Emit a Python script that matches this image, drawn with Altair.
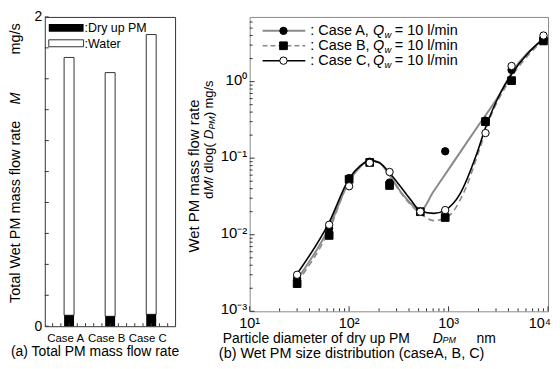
import altair as alt
import pandas as pd

FONT = "Liberation Sans"

# ---------------- data: panel (a) ----------------
cases = ["Case A", "Case B", "Case C"]
case_pos = [1, 2, 3]
dry_pm = [0.071, 0.064, 0.077]
total_wet = [1.738, 1.64, 1.886]

# ---------------- data: panel (b) ----------------
dpm = [30, 63, 100, 161, 255, 520, 925, 2350, 4300, 9000]
caseA_pts = [0.0027, 0.0121, 0.055, 0.090, 0.048, 0.020, 0.123, 0.31, 1.42, 3.55]
caseB_pts = [0.0023, 0.0098, 0.053, 0.088, 0.044, 0.020, 0.0168, 0.30, 1.03, 3.4]
caseC_pts = [0.0030, 0.0135, 0.043, 0.087, 0.066, 0.020, 0.021, 0.213, 1.6, 4.0]

curveA_x = [30, 63, 100, 130, 161, 200, 255, 327, 412, 520, 700, 1000, 2000, 3300, 4300, 9000]
curveA_y = [0.0026, 0.0125, 0.05, 0.078, 0.095, 0.088, 0.060, 0.037, 0.026, 0.0205, 0.0361, 0.0714, 0.269, 0.70, 1.3, 3.55]
curveB_x = [30, 63, 100, 130, 161, 200, 255, 327, 412, 520, 710, 960, 1400, 2070, 2600, 3850, 9000]
curveB_y = [0.0024, 0.0115, 0.05, 0.077, 0.092, 0.087, 0.060, 0.036, 0.025, 0.019, 0.0153, 0.0168, 0.034, 0.136, 0.33, 0.91, 3.5]
curveC_x = [30, 63, 100, 130, 161, 200, 255, 327, 412, 520, 710, 925, 1300, 1900, 2350, 3300, 4300, 9000]
curveC_y = [0.0031, 0.0145, 0.054, 0.08, 0.093, 0.088, 0.064, 0.043, 0.029, 0.0205, 0.019, 0.021, 0.034, 0.11, 0.25, 0.70, 1.25, 3.7]

legend_rows = ["Case A", "Case B", "Case C"]

# axis ticks / labels
left_yticks = [0.2 * i for i in range(11)]
left_xticks = [0.6 + 0.2 * i for i in range(15)]
x_major = [10, 100, 1000, 10000]
x_labels = ["10¹", "10²", "10³", "10⁴"]
x_minor = [m * d for d in [10, 100, 1000] for m in range(2, 10)]
y_major = [0.001, 0.01, 0.1, 1]
y_minor = [m * d for d in [0.001, 0.01, 0.1, 1] for m in range(2, 10) if m * d < 7.0]

W1, H1 = 131, 311
W2, H2 = 300, 296
GREY = "#8a8a8a"
NBSP = "\u00a0"


def txt(s, x, y, size=12, align="left", angle=0, style="normal", baseline="middle", color="black"):
    kw = dict(align=align, baseline=baseline, fontSize=size, font=FONT, color=color)
    if angle:
        kw["angle"] = angle
    if style != "normal":
        kw["fontStyle"] = style
    return alt.Chart(pd.DataFrame({"t": [s]})).mark_text(**kw).encode(
        text="t:N", x=alt.value(x), y=alt.value(y))


def anchor(x, y):
    # invisible rule fixing the layout extent
    return alt.Chart(pd.DataFrame({"a": [0]})).mark_rule(strokeOpacity=0).encode(
        x=alt.value(x), y=alt.value(y), y2=alt.value(0))


# ---------------- panel (a) ----------------
xs_a = alt.Scale(domain=[0.53, 3.46], nice=False, zero=False)
ys_a = alt.Scale(domain=[0, 2], nice=False)
x_axis_a = alt.Axis(values=case_pos, ticks=False, domain=False, grid=False, labelOverlap=False,
                    labelExpr="datum.value == 1 ? 'Case A' : datum.value == 2 ? 'Case B' : 'Case C'",
                    labelFontSize=11.5, labelPadding=6, labelFont=FONT, labelFlush=False,
                    labelColor="black", labelOffset=-4)
y_axis_a = alt.Axis(values=[0, 2], ticks=False, domain=False, grid=False, labelOverlap=False,
                    labelFontSize=14, labelPadding=3, labelFont=FONT, labelColor="black")
XA = alt.X("x:Q", scale=xs_a, title=None, axis=x_axis_a)
YA = alt.Y("y:Q", scale=ys_a, title=None, axis=y_axis_a)

df_water = pd.DataFrame({"x": case_pos, "y": dry_pm, "y2": total_wet})
df_dry = pd.DataFrame({"x": case_pos, "y": [0] * 3, "y2": dry_pm})

water = alt.Chart(df_water).mark_bar(size=10, fill="white", stroke="#333", strokeWidth=1).encode(
    x=XA, y=YA, y2="y2:Q")
dry = alt.Chart(df_dry).mark_bar(size=10, color="black").encode(x=XA, y=YA, y2="y2:Q")

yt_a = alt.Chart(pd.DataFrame({"y": left_yticks})).mark_rule(color="#333").encode(
    y=YA, x=alt.value(0), x2=alt.value(4))
xt_a = alt.Chart(pd.DataFrame({"x": left_xticks})).mark_rule(color="#333").encode(
    x=XA, y=alt.value(H1), y2=alt.value(H1 - 3))

leg_a = [
    alt.Chart(pd.DataFrame({"a": [0]})).mark_rect(color="black").encode(
        x=alt.value(4), x2=alt.value(39), y=alt.value(7), y2=alt.value(15)),
    alt.Chart(pd.DataFrame({"a": [0]})).mark_rect(fill="white", stroke="#333").encode(
        x=alt.value(4), x2=alt.value(39), y=alt.value(23), y2=alt.value(30)),
    txt(":Dry up PM", 40, 11, 12.5),
    txt(":Water", 40, 27, 12.5),
]
title_a = [
    txt("Total Wet PM mass flow rate", -28.5, 196, 14.5, align="center", angle=270),
    txt("M", -28.5, 82, 14.5, align="center", angle=270, style="italic"),
    txt("mg/s", -28.5, 22, 14.5, align="center", angle=270),
    txt("(a) Total PM mass flow rate", -34, 337, 14),
]

panel_a = alt.layer(water, dry, yt_a, xt_a, anchor(-35, -7), *leg_a, *title_a).properties(
    width=W1, height=H1, view=alt.ViewBackground(stroke="#333", strokeWidth=1))

# ---------------- panel (b) ----------------
xs_b = alt.Scale(type="log", domain=[10, 10000], nice=False)
ys_b = alt.Scale(type="log", domain=[0.001, 7.0], nice=False)
y_axis_b = alt.Axis(values=y_major, ticks=False, domain=False, grid=False, labelOverlap=False,
                    labelExpr="datum.value < 0.005 ? '10⁻³' : datum.value < 0.05 ? '10⁻²' : datum.value < 0.5 ? '10⁻¹' : '10⁰'",
                    labelFontSize=15, labelPadding=3, labelFont=FONT, labelColor="black", labelOffset=-2.5)
XB = alt.X("x:Q", scale=xs_b, title=None, axis=None)
YB = alt.Y("y:Q", scale=ys_b, title=None, axis=y_axis_b)


def curve(xv, yv, color, width, dash=None):
    kw = dict(color=color, strokeWidth=width, interpolate="monotone")
    if dash:
        kw["strokeDash"] = dash
    return alt.Chart(pd.DataFrame({"x": xv, "y": yv})).mark_line(**kw).encode(x=XB, y=YB)


def pts(yv, shape, fill, size):
    return alt.Chart(pd.DataFrame({"x": dpm, "y": yv})).mark_point(
        shape=shape, filled=True, fill=fill, stroke="black", strokeWidth=1, size=size, opacity=1).encode(
        x=XB, y=YB)


lineA = curve(curveA_x, curveA_y, GREY, 2)
lineB = curve(curveB_x, curveB_y, GREY, 1.6, dash=[6, 4])
lineC = curve(curveC_x, curveC_y, "black", 1.6)
ptA = pts(caseA_pts, "circle", "black", 55)
ptB = pts(caseB_pts, "square", "black", 60)
ptC = pts(caseC_pts, "circle", "white", 55)

xt_maj = alt.Chart(pd.DataFrame({"x": x_major})).mark_rule(color="#333").encode(
    x=XB, y=alt.value(H2), y2=alt.value(H2 - 5))
xt_min = alt.Chart(pd.DataFrame({"x": x_minor})).mark_rule(color="#333").encode(
    x=XB, y=alt.value(H2), y2=alt.value(H2 - 3))
yt_maj = alt.Chart(pd.DataFrame({"y": y_major})).mark_rule(color="#333").encode(
    y=YB, x=alt.value(0), x2=alt.value(5))
yt_min = alt.Chart(pd.DataFrame({"y": y_minor})).mark_rule(color="#333").encode(
    y=YB, x=alt.value(0), x2=alt.value(3))

# x tick labels (last one kept inside the page)
xl_df = pd.DataFrame({"x": x_major[:3], "t": x_labels[:3]})
xl_main = alt.Chart(xl_df).mark_text(fontSize=14.5, font=FONT, baseline="middle", align="center",
                                     color="black").encode(x=XB, y=alt.value(H2 + 13), text="t:N")
xl_last = alt.Chart(pd.DataFrame({"x": x_major[3:], "t": x_labels[3:]})).mark_text(
    fontSize=14.5, font=FONT, baseline="middle", align="right", dx=3, color="black").encode(
    x=XB, y=alt.value(H2 + 13), text="t:N")

leg_b = []
row_y = [14, 29, 44]
styles = [(GREY, 2, None, "circle", "black", 55), (GREY, 1.6, [5, 3], "square", "black", 60),
          ("black", 1.6, None, "circle", "white", 55)]
for name, yy, (c, w, d, sh, f, sz) in zip(legend_rows, row_y, styles):
    rk = dict(color=c, strokeWidth=w)
    if d:
        rk["strokeDash"] = d
    leg_b.append(alt.Chart(pd.DataFrame({"a": [0]})).mark_rule(**rk).encode(
        x=alt.value(13), x2=alt.value(56), y=alt.value(yy)))
    leg_b.append(alt.Chart(pd.DataFrame({"a": [0]})).mark_point(
        shape=sh, filled=True, fill=f, stroke="black", strokeWidth=1, size=sz, opacity=1).encode(
        x=alt.value(34), y=alt.value(yy)))
    leg_b.append(txt(": " + name + ",", 61, yy, 14.5))
    leg_b.append(txt("Q", 124, yy, 14.5, style="italic"))
    leg_b.append(txt("w", 135.5, yy + 4, 9.5, style="italic"))
    leg_b.append(txt("= 10 l/min", 146, yy, 14.5))

title_b = [
    txt("Wet PM mass flow rate", -56, 160, 15, align="center", angle=270),
    txt("d", -41, 183, 13.5, align="left", angle=270),
    txt("M", -41, 175.5, 13.5, align="left", angle=270, style="italic"),
    txt(NBSP + "/ dlog(", -41, 164.3, 13.5, align="left", angle=270),
    txt("D", -41, 123, 13.5, align="left", angle=270, style="italic"),
    txt("PM", -38, 113.3, 9, align="left", angle=270, style="italic"),
    txt(")", -41, 99.8, 13.5, align="left", angle=270),
    txt("mg/s", -41, 78, 13, align="center", angle=270),
    txt("Particle diameter of dry up PM", -27, 323.5, 14),
    txt("D", 184, 323.5, 14, style="italic"),
    txt("PM", 194, 325, 9, style="italic"),
    txt("nm", 228, 323.5, 14),
    txt("(b) Wet PM size distribution (caseA, B, C)", -31, 338.5, 14.5),
]

panel_b = alt.layer(lineA, lineB, lineC, ptA, ptB, ptC, xt_maj, xt_min, yt_maj, yt_min,
                    xl_main, xl_last, *leg_b, *title_b).properties(
    width=W2, height=H2, view=alt.ViewBackground(stroke=GREY, strokeWidth=1))

chart = alt.hconcat(panel_a, panel_b, spacing=75, bounds="flush").properties(
    padding={"left": 0, "top": 0, "right": 0, "bottom": 0}
).configure(font=FONT).configure_view(strokeWidth=1)

chart.save("out.html", embed_options={"renderer": "svg", "actions": False})
